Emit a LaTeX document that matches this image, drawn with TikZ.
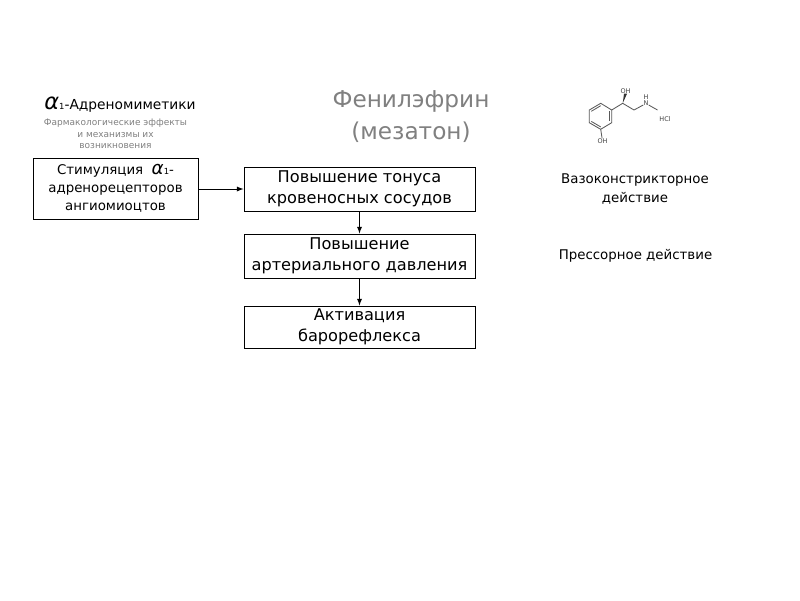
\documentclass[tikz,border=0pt]{standalone}
\usepackage{fontspec}
\setmainfont{DejaVu Sans}
\usepackage{tikz}
\usetikzlibrary{calc}

\tikzset{
    flowbox/.style={draw, line width=0.7pt, align=center, inner sep=0pt, font=\fontsize{11.5pt}{15pt}\selectfont},
    plaintext/.style={align=center, inner sep=0pt, font=\fontsize{9.5pt}{14pt}\selectfont},
    atomtext/.style={inner sep=0pt, font=\fontsize{4.6pt}{5pt}\selectfont, text=black!75},
    bond/.style={line width=0.6pt, black!65},
    flowarrow/.style={-latex, line width=0.65pt},
}
\newcommand{\alphaone}[1]{{\fontsize{#1}{#1}\selectfont\itshape α}{\fontsize{6pt}{6pt}\selectfont 1}}

\begin{document}
\begin{tikzpicture}[x=0.025cm, y=-0.025cm]
    \useasboundingbox (0, 0) rectangle (800, 600);

    % left column
    \node[plaintext, font=\fontsize{9.8pt}{12pt}\selectfont] (klass) at (120, 105) {\alphaone{16pt}-Адреномиметики};
    \node[plaintext, text=black!50, font=\fontsize{6.4pt}{8.1pt}\selectfont] (effekty) at (115.5, 134) {Фармакологические эффекты\\и механизмы их\\возникновения};
    \node[flowbox, minimum width=165*0.025cm, minimum height=61*0.025cm, font=\fontsize{9.5pt}{12.6pt}\selectfont] (stimul) at (115.5, 188.5) {Стимуляция \ \alphaone{13pt}-\\адренорецепторов\\ангиомиоцтов};

    % title
    \node[align=center, inner sep=0pt, text=black!50, font=\fontsize{16.5pt}{22.7pt}\selectfont] (titul) at (411, 117) {Фенилэфрин\\(мезатон)};

    % middle column
    \node[flowbox, minimum width=231*0.025cm, minimum height=44*0.025cm] (tonus) at (359.5, 189) {Повышение тонуса\\кровеносных сосудов};
    \node[flowbox, minimum width=231*0.025cm, minimum height=44*0.025cm] (davlenie) at (359.5, 256) {Повышение\\артериального давления};
    \node[flowbox, minimum width=231*0.025cm, minimum height=42*0.025cm] (baro) at (359.5, 327) {Активация\\барорефлекса};

    \draw[flowarrow] (stimul.east |- tonus) -- (tonus.west);
    \draw[flowarrow] (tonus) -- (davlenie);
    \draw[flowarrow] (davlenie) -- (baro);

    % right column
    \node[plaintext] (vazo) at (635, 189) {Вазоконстрикторное\\действие};
    \node[plaintext] (pressor) at (635.5, 256) {Прессорное действие};

    % molecule
    \coordinate (R1) at (600.7, 103.3);
    \coordinate (R2) at (611.7, 110);
    \coordinate (R3) at (611.7, 122.7);
    \coordinate (R4) at (600.7, 129.3);
    \coordinate (R5) at (589.3, 122.7);
    \coordinate (R6) at (589.3, 110);
    \coordinate (C1) at (622.7, 103.3);
    \coordinate (C2) at (634, 110);
    \node[atomtext] (oh1) at (625.5, 91) {OH};
    \node[atomtext] (nh) at (646, 103.5) {N};
    \node[atomtext] (h) at (646, 97) {H};
    \coordinate (C3) at (657.5, 110);
    \node[atomtext] (hcl) at (665, 119) {HCl};
    \node[atomtext] (oh2) at (602.5, 141) {OH};

    \draw[bond] (R1) -- (R2) -- (R3) -- (R4) -- (R5) -- (R6) -- cycle;
    \draw[bond] ($(R2)+(-2,1.3)$) -- ($(R3)+(-2,-1.3)$);
    \draw[bond] ($(R4)+(0,-2.4)$) -- ($(R5)+(2,-1.3)$);
    \draw[bond] ($(R6)+(2,1.3)$) -- ($(R1)+(0,2.4)$);
    \draw[bond] (R2) -- (C1) -- (C2) -- (nh);
    \draw[bond] (nh) -- (C3);
    \draw[bond] (R4) -- (oh2);
    \fill[black!80] (C1) -- ($(oh1.south)+(-1.5,0)$) -- ($(oh1.south)+(1.5,0)$) -- cycle;
\end{tikzpicture}
\end{document}
